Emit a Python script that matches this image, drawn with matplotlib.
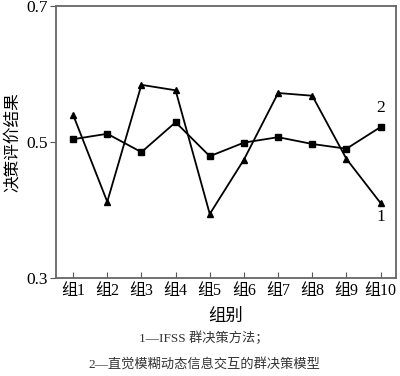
import matplotlib.pyplot as plt

plt.rcParams['font.family'] = ['Liberation Serif', 'Noto Sans CJK SC']

groups = ['组1', '组2', '组3', '组4', '组5', '组6', '组7', '组8', '组9', '组10']
ifss = [0.540, 0.412, 0.584, 0.576, 0.394, 0.474, 0.572, 0.568, 0.475, 0.410]
model = [0.504, 0.512, 0.485, 0.529, 0.479, 0.499, 0.507, 0.497, 0.490, 0.522]
x = list(range(1, len(groups) + 1))

fig = plt.figure(figsize=(4.0, 3.76), dpi=100)
ax = fig.add_axes([0.14, 0.261, 0.85, 0.723])

ax.plot(x, ifss, color='black', lw=1.3, marker='^', ms=5)
ax.plot(x, model, color='black', lw=1.3, marker='s', ms=4.5)

ax.set_xlim(0.5, 10.45)
ax.set_ylim(0.3, 0.7)
ax.set_yticks([0.3, 0.5, 0.7])
ax.set_yticklabels(['0.3', '0.5', '0.7'])
ax.set_xticks(x)
ax.set_xticklabels(groups)
ax.tick_params(axis='x', direction='in', length=4, labelsize=11.5, pad=4, color='#555555')
ax.tick_params(axis='y', direction='out', length=4, labelsize=12.5, pad=2, color='#555555')
for s in ax.spines.values():
    s.set_color('#666666')
    s.set_linewidth(1.3)

ax.set_ylabel('决策评价结果', fontsize=12, labelpad=4)
ax.set_xlabel('组别', fontsize=12.5, labelpad=7)

# series labels
ax.annotate('2', (x[-1], model[-1]), xytext=(0, 8), textcoords='offset points',
            ha='center', va='bottom', fontsize=12.5)
ax.annotate('1', (x[-1], ifss[-1]), xytext=(0, -4), textcoords='offset points',
            ha='center', va='top', fontsize=12.5)

fig.text(0.51, 0.10, '1—IFSS 群决策方法；', ha='center', va='center', fontsize=9.5, color='#333333')
fig.text(0.51, 0.03, '2—直觉模糊动态信息交互的群决策模型', ha='center', va='center', fontsize=9.5, color='#333333')

fig.savefig('out.png', dpi=100)
